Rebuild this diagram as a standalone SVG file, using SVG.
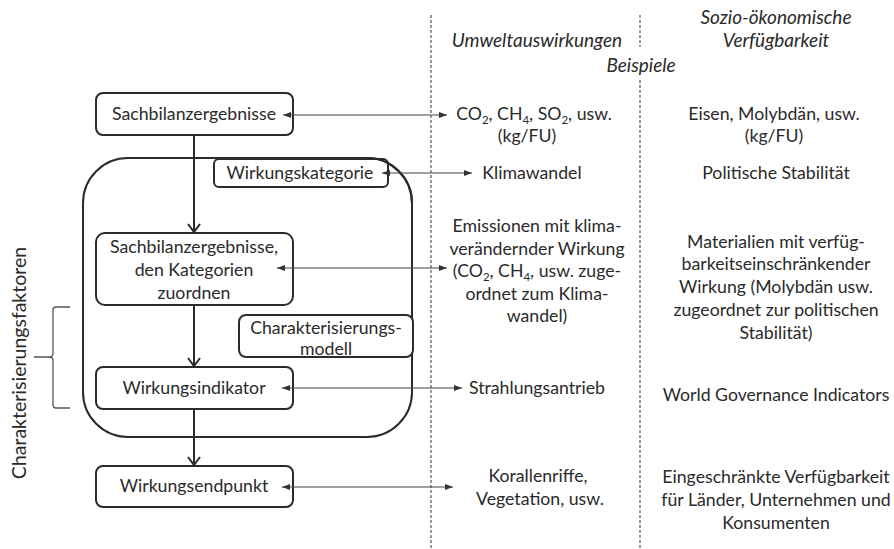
<svg xmlns="http://www.w3.org/2000/svg" width="894" height="549" viewBox="0 0 894 549">
  <defs>
    <style>
      .box { fill: #ffffff; stroke: #2b2b2b; stroke-width: 2; }
      .frame { fill: none; stroke: #2b2b2b; stroke-width: 2; }
      .t { font-family: Lato, "Liberation Sans", sans-serif; font-size: 17.7px; fill: #2a2a2a; text-anchor: middle; }
      .it { font-style: italic; font-size: 19px; }
      .side { font-size: 19.5px; }
      .sub { font-size: 11.5px; }
      .flow { fill: none; stroke: #2b2b2b; stroke-width: 2; }
      .link { fill: none; stroke: #444444; stroke-width: 1.2; marker-start: url(#tip); marker-end: url(#tip); }
      .sep { fill: none; stroke: #555555; stroke-width: 1.2; stroke-dasharray: 3 2; }
      .brace { fill: none; stroke: #555555; stroke-width: 1.3; }
    </style>
    <marker id="tip" viewBox="0 0 8 6" refX="8" refY="3" markerWidth="8" markerHeight="6" markerUnits="userSpaceOnUse" orient="auto-start-reverse">
      <path d="M0,0 L8,3 L0,6 Z" fill="#333333"/>
    </marker>
  </defs>

  <!-- column separators -->
  <g id="separators">
    <line class="sep" x1="431" y1="15" x2="431" y2="549"/>
    <line class="sep" x1="640" y1="15" x2="640" y2="47"/>
    <line class="sep" x1="640" y1="80" x2="640" y2="549"/>
  </g>

  <!-- column headings -->
  <g id="headings">
    <text class="t it" x="537" y="47">Umweltauswirkungen</text>
    <text class="t it" x="641" y="72">Beispiele</text>
    <text class="t it" x="776" y="24">Sozio-ökonomische</text>
    <text class="t it" x="776" y="47">Verfügbarkeit</text>
  </g>

  <!-- container -->
  <g id="container">
    <rect class="frame" x="83" y="158" width="329" height="279" rx="45" ry="45"/>
  </g>

  <g id="n-sachbilanz">
    <rect class="box" x="96" y="93" width="197" height="42" rx="7"/>
    <text class="t" x="194" y="120">Sachbilanzergebnisse</text>
  </g>

  <g id="n-kategorie">
    <rect class="box" x="214" y="159" width="174" height="28" rx="5"/>
    <text class="t" x="300" y="179">Wirkungskategorie</text>
  </g>

  <!-- redraw the container corner over the category box -->
  <path class="frame" d="M367,158 A45,45 0 0 1 412,203"/>

  <g id="n-zuordnen">
    <rect class="box" x="96" y="233" width="197" height="72" rx="9"/>
    <text class="t" x="194" y="253">Sachbilanzergebnisse,</text>
    <text class="t" x="194" y="276">den Kategorien</text>
    <text class="t" x="194" y="299">zuordnen</text>
  </g>

  <g id="n-modell">
    <rect class="box" x="239" y="315" width="174" height="42" rx="7"/>
    <text class="t" x="326" y="334">Charakterisierungs-</text>
    <text class="t" x="326" y="355">modell</text>
  </g>

  <g id="n-indikator">
    <rect class="box" x="96" y="367" width="197" height="42" rx="7"/>
    <text class="t" x="194" y="394">Wirkungsindikator</text>
  </g>

  <g id="n-endpunkt">
    <rect class="box" x="96" y="466" width="197" height="41" rx="7"/>
    <text class="t" x="194" y="492">Wirkungsendpunkt</text>
  </g>

  <!-- brace and side label -->
  <g id="n-faktoren">
    <path class="brace" d="M70,307 L56,307 Q53,307 53,310 L53,354 Q53,357 48,357 L34,357 M48,357 Q53,357 53,360 L53,405 Q53,408 56,408 L70,408"/>
    <text class="t side" transform="translate(26,363) rotate(-90)">Charakterisierungsfaktoren</text>
  </g>

  <!-- connectors -->
  <g id="connectors">
    <line class="flow" x1="194" y1="135" x2="194" y2="232"/>
    <polyline class="flow" points="188,224 194,232 200,224"/>
    <line class="flow" x1="194" y1="305" x2="194" y2="366"/>
    <polyline class="flow" points="188,358 194,366 200,358"/>
    <line class="flow" x1="194" y1="409" x2="194" y2="465"/>
    <polyline class="flow" points="188,457 194,465 200,457"/>

    <line class="link" x1="283" y1="115" x2="447" y2="115"/>
    <line class="link" x1="382" y1="173" x2="472" y2="173"/>
    <line class="link" x1="277" y1="268" x2="447" y2="268"/>
    <line class="link" x1="282" y1="388" x2="462" y2="388"/>
    <line class="link" x1="282" y1="487" x2="453" y2="487"/>
  </g>

  <!-- environmental examples -->
  <g id="umwelt">
    <text class="t" x="534" y="120">CO<tspan class="sub" dy="4">2</tspan><tspan dy="-4">, CH</tspan><tspan class="sub" dy="4">4</tspan><tspan dy="-4">, SO</tspan><tspan class="sub" dy="4">2</tspan><tspan dy="-4">, usw.</tspan></text>
    <text class="t" x="527" y="142">(kg/FU)</text>
    <text class="t" x="532" y="179">Klimawandel</text>
    <text class="t" x="537" y="232">Emissionen mit klima-</text>
    <text class="t" x="537" y="255">verändernder Wirkung</text>
    <text class="t" x="537" y="277">(CO<tspan class="sub" dy="4">2</tspan><tspan dy="-4">, CH</tspan><tspan class="sub" dy="4">4</tspan><tspan dy="-4">, usw. zuge-</tspan></text>
    <text class="t" x="537" y="300">ordnet zum Klima-</text>
    <text class="t" x="537" y="322">wandel)</text>
    <text class="t" x="537" y="394">Strahlungsantrieb</text>
    <text class="t" x="538" y="482">Korallenriffe,</text>
    <text class="t" x="540" y="505">Vegetation, usw.</text>
  </g>

  <!-- socio-economic examples -->
  <g id="sozio">
    <text class="t" x="774" y="120">Eisen, Molybdän, usw.</text>
    <text class="t" x="774" y="142">(kg/FU)</text>
    <text class="t" x="776" y="179">Politische Stabilität</text>
    <text class="t" x="776" y="248">Materialien mit verfüg-</text>
    <text class="t" x="776" y="270">barkeitseinschränkender</text>
    <text class="t" x="776" y="293">Wirkung (Molybdän usw.</text>
    <text class="t" x="776" y="316">zugeordnet zur politischen</text>
    <text class="t" x="776" y="339">Stabilität)</text>
    <text class="t" x="776" y="401">World Governance Indicators</text>
    <text class="t" x="776" y="483">Eingeschränkte Verfügbarkeit</text>
    <text class="t" x="776" y="506">für Länder, Unternehmen und</text>
    <text class="t" x="776" y="529">Konsumenten</text>
  </g>
</svg>
